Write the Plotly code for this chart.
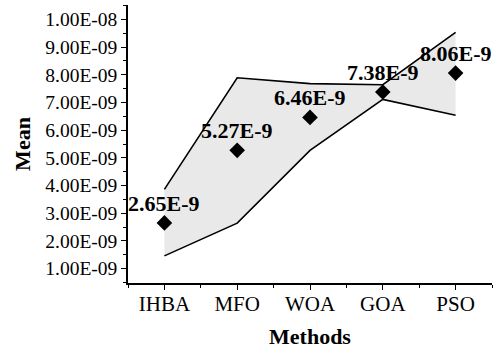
import plotly.graph_objects as go

methods = ["IHBA", "MFO", "WOA", "GOA", "PSO"]
mean_vals = [2.65e-9, 5.27e-9, 6.46e-9, 7.38e-9, 8.06e-9]
mean_labels = ["2.65E-9", "5.27E-9", "6.46E-9", "7.38E-9", "8.06E-9"]
upper_vals = [3.86e-9, 7.89e-9, 7.68e-9, 7.64e-9, 9.53e-9]
lower_vals = [1.46e-9, 2.64e-9, 5.27e-9, 7.11e-9, 6.54e-9]
ytick_vals = [1e-9, 2e-9, 3e-9, 4e-9, 5e-9, 6e-9, 7e-9, 8e-9, 9e-9, 1e-8]
ytick_text = ["1.00E-09", "2.00E-09", "3.00E-09", "4.00E-09", "5.00E-09",
              "6.00E-09", "7.00E-09", "8.00E-09", "9.00E-09", "1.00E-08"]

xi = list(range(len(methods)))
FONT = "Liberation Serif"

fig = go.Figure()
fig.add_trace(go.Scatter(x=xi, y=upper_vals, mode="lines",
                         line=dict(color="black", width=1.6), showlegend=False))
fig.add_trace(go.Scatter(x=xi, y=lower_vals, mode="lines",
                         line=dict(color="black", width=1.6),
                         fill="tonexty", fillcolor="#e9e9e9",
                         showlegend=False))
fig.add_trace(go.Scatter(x=xi, y=mean_vals, mode="markers",
                         marker=dict(symbol="diamond", size=12, color="black"),
                         showlegend=False))

for xv, yv, lab in zip(xi, mean_vals, mean_labels):
    fig.add_annotation(x=xv, y=yv, text="<b>%s</b>" % lab, showarrow=False,
                       yanchor="bottom", yshift=5,
                       font=dict(family=FONT, size=22, color="black"))

fig.update_layout(
    width=497, height=352,
    margin=dict(l=128, r=5, t=5, b=69),
    paper_bgcolor="white", plot_bgcolor="white",
    font=dict(family=FONT, color="black"),
    xaxis=dict(
        range=[-0.5, 4.5], tickvals=xi, ticktext=methods,
        showline=True, linecolor="black", linewidth=1.5,
        ticks="outside", ticklen=5, tickwidth=1.2, tickcolor="black",
        tickfont=dict(family=FONT, size=21, color="black"),
        ticklabelstandoff=-4,
        minor=dict(tickvals=[-0.5, 0.5, 1.5, 2.5, 3.5, 4.5], ticks="outside",
                   ticklen=3, tickwidth=1.2, tickcolor="black"),
        showgrid=False, zeroline=False,
        title=dict(text="<b>Methods</b>", font=dict(family=FONT, size=22, color="black"),
                   standoff=14),
    ),
    yaxis=dict(
        range=[0.48e-9, 10.52e-9], tickvals=ytick_vals, ticktext=ytick_text,
        showline=True, linecolor="black", linewidth=1.5,
        ticks="outside", ticklen=5, tickwidth=1.2, tickcolor="black",
        tickfont=dict(family=FONT, size=19.5, color="black"),
        minor=dict(dtick=0.5e-9, tick0=0.5e-9, ticks="outside",
                   ticklen=3, tickwidth=1.2, tickcolor="black"),
        showgrid=False, zeroline=False,
        title=dict(text="<b>Mean</b>", font=dict(family=FONT, size=22, color="black"),
                   standoff=9),
    ),
)

fig.write_html("out.html")
